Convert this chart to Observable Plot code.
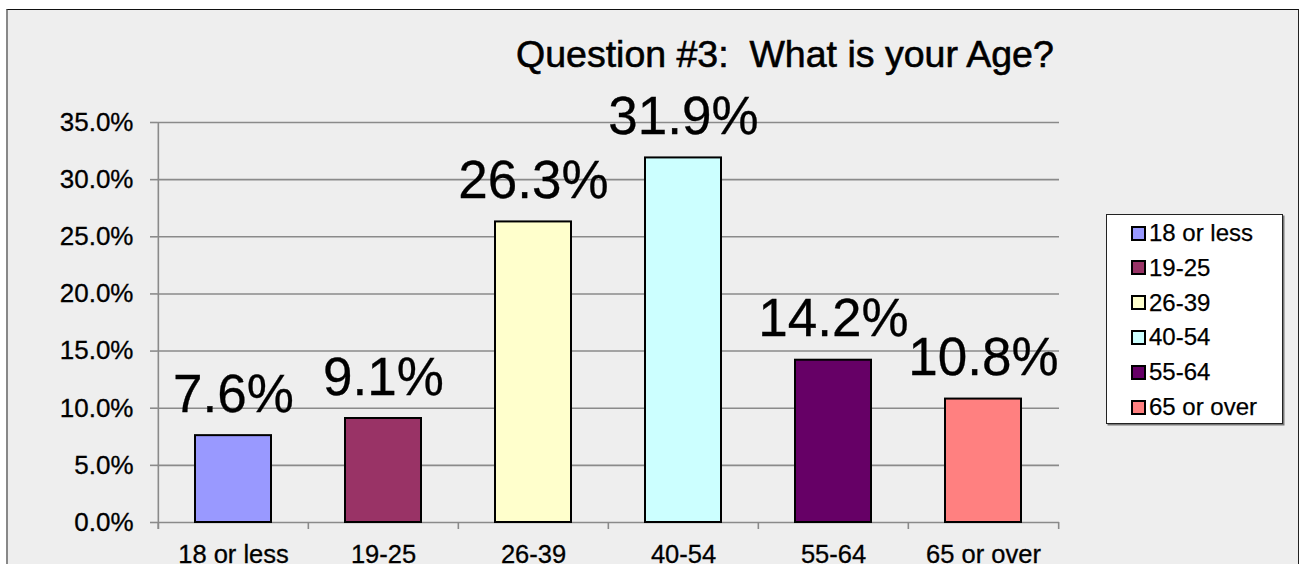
<!DOCTYPE html>
<html>
<head>
<meta charset="utf-8">
<script src="https://cdn.jsdelivr.net/npm/d3@7"></script>
<script src="https://cdn.jsdelivr.net/npm/@observablehq/plot@0.6"></script>
<style>
  html, body { margin: 0; padding: 0; background: #ffffff; }
  body { font-family: "Liberation Sans", Arial, sans-serif; }
  #wrap { position: relative; width: 1300px; height: 564px; overflow: hidden; }
  #box { position: absolute; left: 6px; top: 9px; width: 1290px; height: 600px;
         background: #eeeeee; border-top: 1.5px solid #111; border-left: 2px solid #888; border-right: 1.5px solid #222; }
  #chart { position: absolute; left: 0; top: 0; }
  #title { position: absolute; left: 516px; top: 36px; font-size: 37.5px; line-height: 37.5px;
           white-space: pre; color: #000; -webkit-text-stroke: 0.6px #000; }
  #legend { position: absolute; left: 1106px; top: 214px; width: 175px; height: 208px;
            background: #fff; border: 1px solid #222; box-shadow: 1.5px 1.5px 0 #777; }
  .row { position: absolute; left: 0; height: 30px; display: flex; align-items: center; font-size: 24px; color: #000; -webkit-text-stroke: 0.25px #000; }
  .sw { width: 11px; height: 11px; border: 2px solid #000; margin-left: 24px; margin-right: 3px; }
  #chart text { stroke: #000; stroke-width: 0.3px; }
</style>
</head>
<body>
<div id="wrap">
  <div id="box"></div>
  <div id="chart"></div>
  <div id="title">Question #3:  What is your Age?</div>
  <div id="legend"></div>
</div>
<script>
const categories = ["18 or less", "19-25", "26-39", "40-54", "55-64", "65 or over"];
const values = [7.6, 9.1, 26.3, 31.9, 14.2, 10.8];
const colors = ["#9999FF", "#993366", "#FFFFCC", "#CCFFFF", "#660066", "#FF8080"];
const yTicks = [0, 5, 10, 15, 20, 25, 30, 35];

const data = categories.map((c, i) => ({cat: c, val: values[i]}));

const W = 1300, H = 564, ML = 157, MR = 241, MT = 122, MB = 42;
const bw = (W - ML - MR) / categories.length;
const gray = "#8a8a8a";
const font = '"Liberation Sans", Arial, sans-serif';

const chart = Plot.plot({
  width: W, height: H,
  marginLeft: ML, marginRight: MR, marginTop: MT, marginBottom: MB,
  style: {background: "transparent", fontFamily: font, color: "#000", overflow: "visible"},
  x: {type: "band", domain: categories, padding: 0, label: null},
  y: {domain: [0, 35], label: null},
  color: {type: "ordinal", domain: categories, range: colors},
  marks: [
    Plot.gridY(yTicks, {stroke: gray, strokeOpacity: 1, strokeWidth: 1.6}),
    Plot.axisY(yTicks, {tickFormat: d => d.toFixed(1) + "%", tickSize: 7, tickPadding: 17,
      fontSize: 26, stroke: gray, strokeWidth: 1.6, label: null, fill: "#000"}),
    Plot.axisX({tickSize: 0, tickPadding: 22, fontSize: 25.5, label: null, fill: "#000"}),
    // vertical axis line
    Plot.ruleX([categories[0]], {x: d => d, dx: -bw / 2, y1: () => 35, y2: () => 0, insetBottom: -7, stroke: gray, strokeWidth: 1.6}),
    // boundary ticks on the category axis
    Plot.ruleX(categories, {x: d => d, dx: -bw / 2, y1: () => 0, y2: () => 0, insetBottom: -7, stroke: gray, strokeWidth: 1.6}),
    Plot.ruleX([categories[categories.length - 1]], {x: d => d, dx: bw / 2, y1: () => 0, y2: () => 0, insetBottom: -7, stroke: gray, strokeWidth: 1.6}),
    Plot.barY(data, {x: "cat", y: "val", fill: "cat", stroke: "#000", strokeWidth: 2, insetLeft: 37, insetRight: 37}),
    Plot.text(data, {x: "cat", y: "val", text: d => d.val.toFixed(1) + "%", fontSize: 53, lineAnchor: "bottom", dy: -24, fill: "#000"})
  ]
});
document.getElementById("chart").appendChild(chart);

const legend = d3.select("#legend");
categories.forEach((c, i) => {
  const row = legend.append("div").attr("class", "row").style("top", (3 + i * 34.8) + "px");
  row.append("div").attr("class", "sw").style("background", colors[i]);
  row.append("span").text(c);
});
</script>
</body>
</html>
